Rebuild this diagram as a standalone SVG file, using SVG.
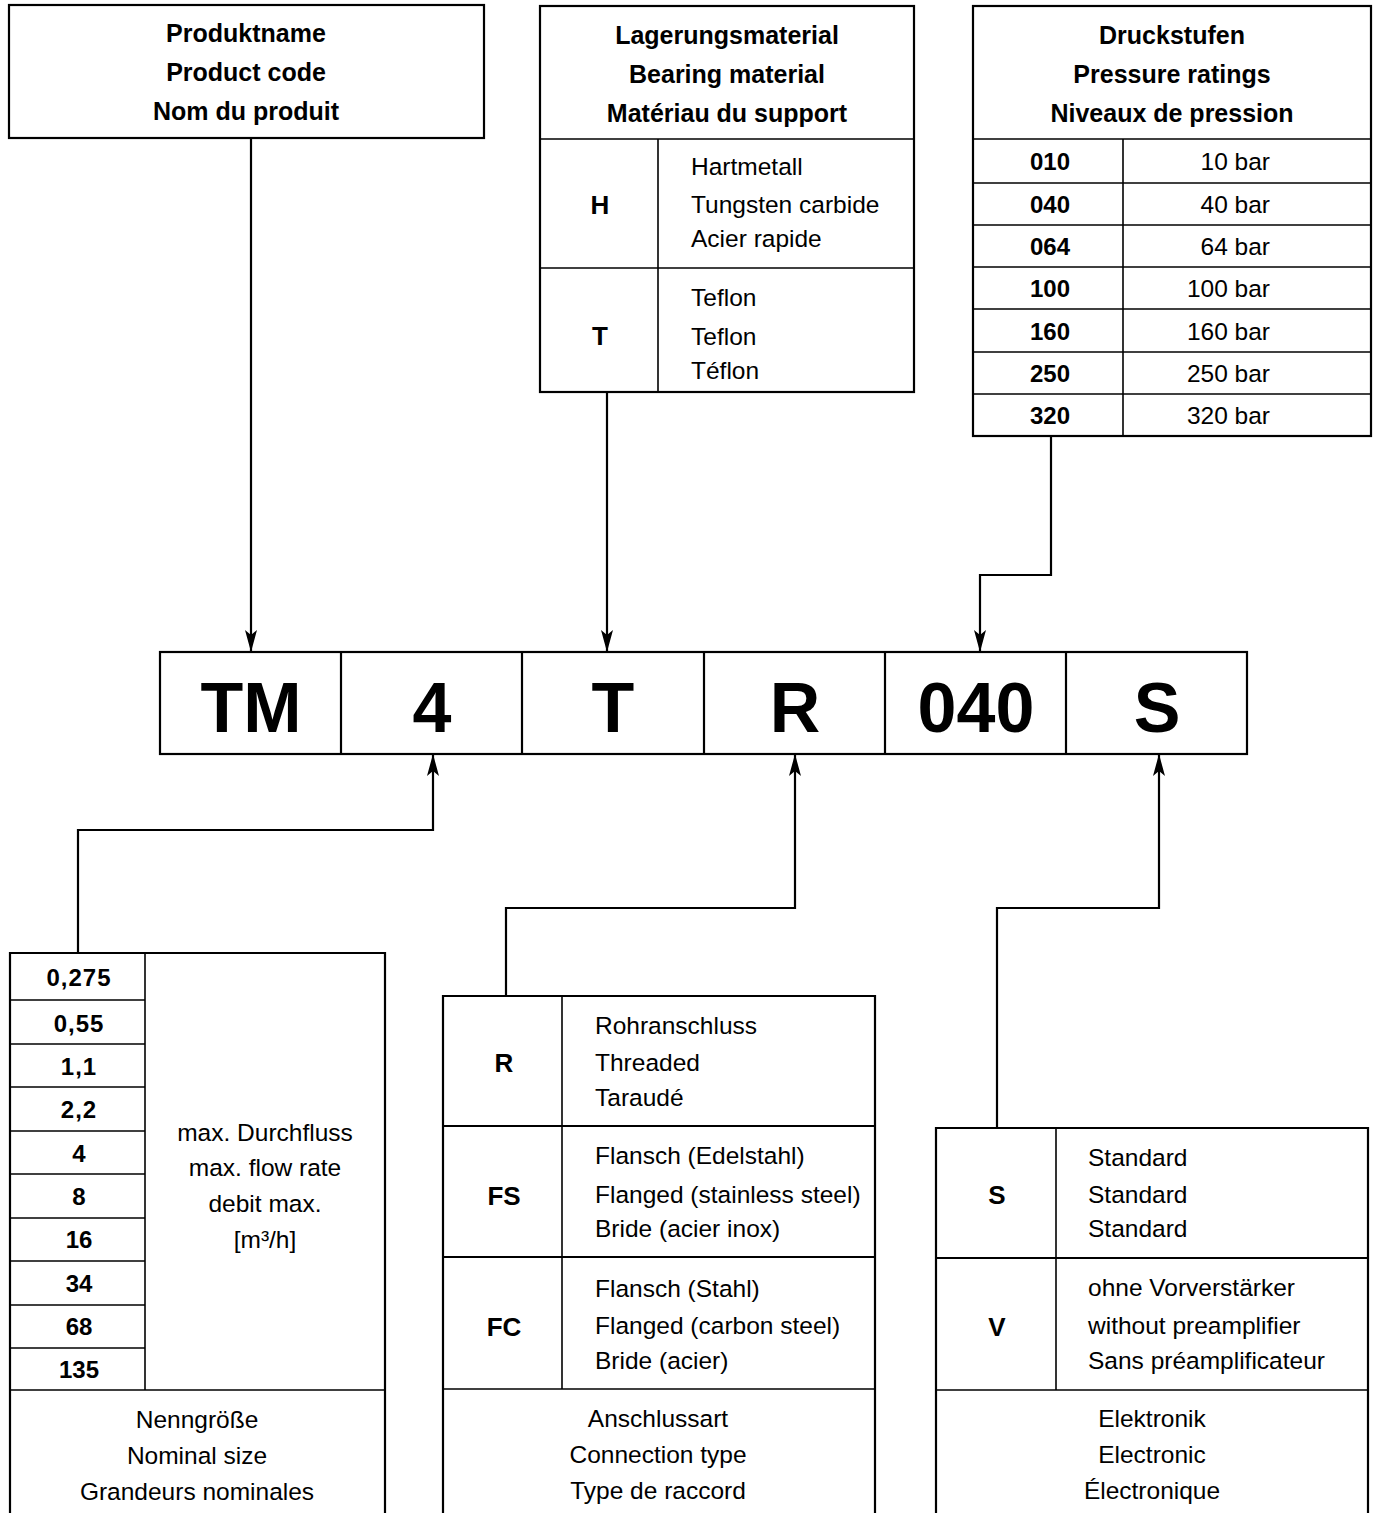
<svg xmlns="http://www.w3.org/2000/svg" width="1376" height="1513" viewBox="0 0 1376 1513">
<style>
.b{fill:none;stroke:#000;stroke-width:2.2}
.d{fill:none;stroke:#000;stroke-width:1.6}
.c{fill:none;stroke:#000;stroke-width:2.2}
text{font-family:"Liberation Sans",Arial,sans-serif;fill:#000}
.h{font-size:25px;font-weight:bold;text-anchor:middle}
.k{font-size:24px;font-weight:bold;text-anchor:middle}
.l{font-size:26px;font-weight:bold;text-anchor:middle}
.t{font-size:24.5px}
.m{font-size:24.5px;text-anchor:middle}
.big{font-size:70px;font-weight:bold;text-anchor:middle}
</style>
<defs>
<marker id="ah" viewBox="0 0 22 12" markerWidth="22" markerHeight="12" refX="22" refY="6" orient="auto" markerUnits="userSpaceOnUse">
<path d="M0,0 L22,6 L0,12 L5,6 Z" fill="#000"/>
</marker>
</defs>
<rect width="1376" height="1513" fill="#fff"/>

<g id="connectors">
<path class="c" d="M251,138 V652" marker-end="url(#ah)"/>
<path class="c" d="M607,392 V652" marker-end="url(#ah)"/>
<path class="c" d="M1051,436 V575 H980 V652" marker-end="url(#ah)"/>
<path class="c" d="M78,953 V830 H433 V754" marker-end="url(#ah)"/>
<path class="c" d="M506,996 V908 H795 V754" marker-end="url(#ah)"/>
<path class="c" d="M997,1128 V908 H1159 V754" marker-end="url(#ah)"/>
</g>

<g id="product-name">
<rect class="b" x="9" y="5" width="475" height="133"/>
<text class="h" x="246" y="42">Produktname</text>
<text class="h" x="246" y="81">Product code</text>
<text class="h" x="246" y="120">Nom du produit</text>
</g>

<g id="bearing-material">
<rect class="b" x="540" y="6" width="374" height="386"/>
<line class="d" x1="540" y1="139" x2="914" y2="139"/>
<line class="d" x1="540" y1="268" x2="914" y2="268"/>
<line class="d" x1="658" y1="139" x2="658" y2="392"/>
<text class="h" x="727" y="44">Lagerungsmaterial</text>
<text class="h" x="727" y="83">Bearing material</text>
<text class="h" x="727" y="122">Matériau du support</text>
<text class="l" x="600" y="214">H</text>
<text class="t" x="691" y="175">Hartmetall</text>
<text class="t" x="691" y="213">Tungsten carbide</text>
<text class="t" x="691" y="247">Acier rapide</text>
<text class="l" x="600" y="345">T</text>
<text class="t" x="691" y="306">Teflon</text>
<text class="t" x="691" y="345">Teflon</text>
<text class="t" x="691" y="379">Téflon</text>
</g>

<g id="pressure-ratings">
<rect class="b" x="973" y="6" width="398" height="430"/>
<line class="d" x1="973" y1="139" x2="1371" y2="139"/>
<line class="d" x1="973" y1="183" x2="1371" y2="183"/>
<line class="d" x1="973" y1="225" x2="1371" y2="225"/>
<line class="d" x1="973" y1="267" x2="1371" y2="267"/>
<line class="d" x1="973" y1="309" x2="1371" y2="309"/>
<line class="d" x1="973" y1="352" x2="1371" y2="352"/>
<line class="d" x1="973" y1="394" x2="1371" y2="394"/>
<line class="d" x1="1123" y1="139" x2="1123" y2="436"/>
<text class="h" x="1172" y="44">Druckstufen</text>
<text class="h" x="1172" y="83">Pressure ratings</text>
<text class="h" x="1172" y="122">Niveaux de pression</text>
<text class="k" x="1050" y="170">010</text>
<text class="k" x="1050" y="213">040</text>
<text class="k" x="1050" y="255">064</text>
<text class="k" x="1050" y="297">100</text>
<text class="k" x="1050" y="340">160</text>
<text class="k" x="1050" y="382">250</text>
<text class="k" x="1050" y="424">320</text>
<g class="t" text-anchor="end">
<text x="1270" y="170">10 bar</text>
<text x="1270" y="213">40 bar</text>
<text x="1270" y="255">64 bar</text>
<text x="1270" y="297">100 bar</text>
<text x="1270" y="340">160 bar</text>
<text x="1270" y="382">250 bar</text>
<text x="1270" y="424">320 bar</text>
</g>
</g>

<g id="code-row">
<rect class="b" x="160" y="652" width="1087" height="102"/>
<line class="b" x1="341" y1="652" x2="341" y2="754"/>
<line class="b" x1="522" y1="652" x2="522" y2="754"/>
<line class="b" x1="704" y1="652" x2="704" y2="754"/>
<line class="b" x1="885" y1="652" x2="885" y2="754"/>
<line class="b" x1="1066" y1="652" x2="1066" y2="754"/>
<text class="big" x="251" y="732">TM</text>
<text class="big" x="432" y="732">4</text>
<text class="big" x="613" y="732">T</text>
<text class="big" x="795" y="732">R</text>
<text class="big" x="976" y="732">040</text>
<text class="big" x="1157" y="732">S</text>
</g>

<g id="nominal-size">
<path class="b" d="M10,1513 V953 H385 V1513"/>
<line class="d" x1="10" y1="1390" x2="385" y2="1390"/>
<line class="d" x1="145" y1="953" x2="145" y2="1390"/>
<line class="d" x1="10" y1="1000" x2="145" y2="1000"/>
<line class="d" x1="10" y1="1044" x2="145" y2="1044"/>
<line class="d" x1="10" y1="1087" x2="145" y2="1087"/>
<line class="d" x1="10" y1="1131" x2="145" y2="1131"/>
<line class="d" x1="10" y1="1174" x2="145" y2="1174"/>
<line class="d" x1="10" y1="1218" x2="145" y2="1218"/>
<line class="d" x1="10" y1="1261" x2="145" y2="1261"/>
<line class="d" x1="10" y1="1305" x2="145" y2="1305"/>
<line class="d" x1="10" y1="1348" x2="145" y2="1348"/>
<text class="k" x="79" y="986" letter-spacing="1">0,275</text>
<text class="k" x="79" y="1032" letter-spacing="1">0,55</text>
<text class="k" x="79" y="1075" letter-spacing="1">1,1</text>
<text class="k" x="79" y="1118" letter-spacing="1">2,2</text>
<text class="k" x="79" y="1162">4</text>
<text class="k" x="79" y="1205">8</text>
<text class="k" x="79" y="1248">16</text>
<text class="k" x="79" y="1292">34</text>
<text class="k" x="79" y="1335">68</text>
<text class="k" x="79" y="1378">135</text>
<text class="m" x="265" y="1141">max. Durchfluss</text>
<text class="m" x="265" y="1176">max. flow rate</text>
<text class="m" x="265" y="1212">debit max.</text>
<text class="m" x="265" y="1248">[m³/h]</text>
<text class="m" x="197" y="1428">Nenngröße</text>
<text class="m" x="197" y="1464">Nominal size</text>
<text class="m" x="197" y="1500">Grandeurs nominales</text>
</g>

<g id="connection-type">
<path class="b" d="M443,1513 V996 H875 V1513"/>
<line class="b" x1="443" y1="1126" x2="875" y2="1126"/>
<line class="b" x1="443" y1="1257" x2="875" y2="1257"/>
<line class="d" x1="443" y1="1389" x2="875" y2="1389"/>
<line class="d" x1="562" y1="996" x2="562" y2="1389"/>
<text class="l" x="504" y="1072">R</text>
<text class="t" x="595" y="1034">Rohranschluss</text>
<text class="t" x="595" y="1071">Threaded</text>
<text class="t" x="595" y="1106">Taraudé</text>
<text class="l" x="504" y="1205">FS</text>
<text class="t" x="595" y="1164">Flansch (Edelstahl)</text>
<text class="t" x="595" y="1203">Flanged (stainless steel)</text>
<text class="t" x="595" y="1237">Bride (acier inox)</text>
<text class="l" x="504" y="1336">FC</text>
<text class="t" x="595" y="1297">Flansch (Stahl)</text>
<text class="t" x="595" y="1334">Flanged (carbon steel)</text>
<text class="t" x="595" y="1369">Bride (acier)</text>
<text class="m" x="658" y="1427">Anschlussart</text>
<text class="m" x="658" y="1463">Connection type</text>
<text class="m" x="658" y="1499">Type de raccord</text>
</g>

<g id="electronic">
<path class="b" d="M936,1513 V1128 H1368 V1513"/>
<line class="b" x1="936" y1="1258" x2="1368" y2="1258"/>
<line class="d" x1="936" y1="1390" x2="1368" y2="1390"/>
<line class="d" x1="1056" y1="1128" x2="1056" y2="1390"/>
<text class="l" x="997" y="1204">S</text>
<text class="t" x="1088" y="1166">Standard</text>
<text class="t" x="1088" y="1203">Standard</text>
<text class="t" x="1088" y="1237">Standard</text>
<text class="l" x="997" y="1336">V</text>
<text class="t" x="1088" y="1296">ohne Vorverstärker</text>
<text class="t" x="1088" y="1334">without preamplifier</text>
<text class="t" x="1088" y="1369">Sans préamplificateur</text>
<text class="m" x="1152" y="1427">Elektronik</text>
<text class="m" x="1152" y="1463">Electronic</text>
<text class="m" x="1152" y="1499">Électronique</text>
</g>
</svg>
